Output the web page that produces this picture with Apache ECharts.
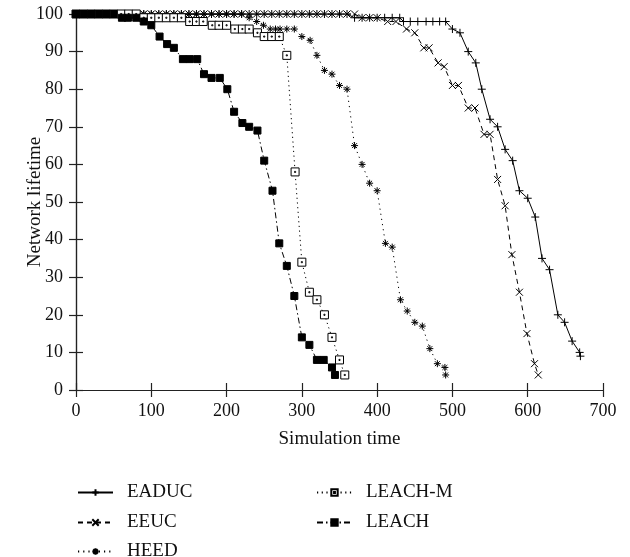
<!DOCTYPE html>
<html>
<head>
<meta charset="utf-8">
<script src="https://cdn.jsdelivr.net/npm/echarts@6/dist/echarts.min.js"></script>
<style>
  html, body { margin: 0; padding: 0; background: #fff; }
  #main { width: 630px; height: 557px; }
</style>
</head>
<body>
<div id="main"></div>
<script>
// x ticks / y ticks
var xTicks = [0, 100, 200, 300, 400, 500, 600, 700];
var yTicks = [0, 10, 20, 30, 40, 50, 60, 70, 80, 90, 100];

// [simulation time, network lifetime]
var eaduc = [
    [0,100],[10,100],[20,100],[30,100],[40,100],[50,100],[60,100],[70,100],[80,100],[90,100],
    [100,100],[110,100],[120,100],[130,100],[140,100],[150,100],[160,100],[170,100],[180,100],[190,100],
    [200,100],[210,100],[220,100],[230,100],[240,100],[250,100],[260,100],[270,100],[280,100],[290,100],
    [300,100],[310,100],[320,100],[330,100],[340,100],[350,100],[360,100],[370,99],[380,99],[390,99],
    [400,99],[410,99],[420,99],[430,99],[435,98],[444,98],[454,98],[465,98],[474,98],[483,98],[491,98],
    [500,96],[510,95],[521,90],[531,87],[539,80],[550,72],[560,70],[570,64],[580,61],[589,53],
    [600,51],[610,46],[619,35],[629,32],[640,20],[649,18],[659,13],[669,10],[670,9]
];
var eeuc = [
    [0,100],[10,100],[20,100],[30,100],[40,100],[50,100],[60,100],[70,100],[80,100],[90,100],
    [100,100],[110,100],[120,100],[130,100],[140,100],[150,100],[160,100],[170,100],[180,100],[190,100],
    [200,100],[210,100],[220,100],[230,100],[240,100],[250,100],[260,100],[270,100],[280,100],[290,100],
    [300,100],[310,100],[320,100],[330,100],[340,100],[350,100],[360,100],[370,100],[380,99],[390,99],
    [400,99],[414,98],[425,98],[439,96],[450,95],[462,91],[469,91],[481,87],[489,86],[500,81],
    [508,81],[521,75],[530,75],[542,68],[550,68],[560,56],[570,49],[579,36],[589,26],[599,15],
    [609,7],[614,4]
];
var heed = [
    [0,100],[10,100],[20,100],[30,100],[40,100],[50,100],[60,100],[70,100],[80,100],[90,100],
    [100,100],[110,100],[120,100],[130,100],[140,100],[150,100],[160,100],[170,100],[180,100],[190,100],
    [200,100],[210,100],[220,100],[230,99],[240,98],[249,97],[258,96],[265,96],[271,96],[280,96],
    [290,96],[300,94],[311,93],[320,89],[330,85],[340,84],[350,81],[360,80],[370,65],[380,60],
    [390,55],[400,53],[411,39],[420,38],[431,24],[440,21],[450,18],[460,17],[470,11],[480,7],
    [490,6],[491,4]
];
var leachM = [
    [0,100],[10,100],[20,100],[30,100],[40,100],[50,100],[60,100],[70,100],[80,100],[90,99],
    [100,99],[110,99],[120,99],[130,99],[140,99],[151,98],[160,98],[169,98],[181,97],[190,97],
    [200,97],[211,96],[221,96],[230,96],[241,95],[250,94],[260,94],[270,94],[280,89],[291,58],
    [300,34],[310,26],[320,24],[330,20],[340,14],[350,8],[357,4]
];
var leach = [
    [0,100],[10,100],[20,100],[30,100],[40,100],[50,100],[61,99],[69,99],[80,99],[90,98],
    [100,97],[111,94],[121,92],[130,91],[142,88],[151,88],[161,88],[170,84],[180,83],[191,83],
    [201,80],[210,74],[221,71],[230,70],[241,69],[250,61],[261,53],[270,39],[280,33],[290,25],
    [300,14],[310,12],[320,8],[329,8],[340,6],[344,4]
];

var font = 'Liberation Serif';
var plusPath = 'path://M0,5 L10,5 M5,0 L5,10';
var crossPath = 'path://M0,0 L10,10 M10,0 L0,10';
var starPath = 'path://M0,5 L10,5 M5,0 L5,10 M1.5,1.5 L8.5,8.5 M8.5,1.5 L1.5,8.5';
var boxPath = 'path://M0,0 L10,0 L10,10 L0,10 Z M4.3,4.3 L5.7,4.3 L5.7,5.7 L4.3,5.7 Z';

function mk(name, data, symbol, size, dash, fill) {
    return {
        name: name,
        type: 'line',
        data: data,
        symbol: symbol,
        symbolSize: size,
        showAllSymbol: true,
        color: '#000',
        itemStyle: {
            color: fill,
            borderColor: '#000',
            borderWidth: 1
        },
        lineStyle: {
            color: '#000',
            width: 1,
            type: dash
        },
        emphasis: { disabled: true }
    };
}

// one legend box per entry, so each sits where the reference has it
function leg(name, left, top) {
    return {
        data: [name],
        left: left,
        top: top,
        padding: 0,
        itemWidth: 35,
        itemHeight: 8,
        textStyle: { fontFamily: font, fontSize: 19, color: '#111', padding: [0, 0, 0, 9] }
    };
}

var myChart = echarts.init(document.getElementById('main'));

var axisLineStyle = { show: true, lineStyle: { color: '#222', width: 1.2 } };
var tickStyle = { show: true, inside: true, length: 7, lineStyle: { color: '#222', width: 1.2 } };

option = {
    animation: false,
    backgroundColor: '#fff',
    grid: {
        left: 76,
        right: 27,
        top: 14,
        bottom: 167
    },
    legend: [
        leg('EADUC', 77, 483),
        leg('EEUC', 77, 513),
        leg('HEED', 77, 542),
        leg('LEACH-M', 316, 483),
        leg('LEACH', 316, 513)
    ],
    xAxis: [
        {
            type: 'value',
            min: xTicks[0],
            max: xTicks[xTicks.length - 1],
            interval: 100,
            name: 'Simulation time',
            nameLocation: 'middle',
            nameGap: 40,
            nameMoveOverlap: false,
            nameTextStyle: { fontFamily: font, fontSize: 19, color: '#111' },
            axisLine: axisLineStyle,
            axisTick: tickStyle,
            axisLabel: { fontFamily: font, fontSize: 18, color: '#111', margin: 12 },
            splitLine: { show: false }
        },
        {
            type: 'value',
            position: 'top',
            min: xTicks[0],
            max: xTicks[xTicks.length - 1],
            interval: 100,
            axisLine: axisLineStyle,
            axisTick: tickStyle,
            axisLabel: { show: false },
            splitLine: { show: false }
        }
    ],
    yAxis: [
        {
            type: 'value',
            min: yTicks[0],
            max: yTicks[yTicks.length - 1],
            interval: 10,
            name: 'Network lifetime',
            nameLocation: 'middle',
            nameGap: 31,
            nameMoveOverlap: false,
            nameTextStyle: { fontFamily: font, fontSize: 19, color: '#111' },
            axisLine: axisLineStyle,
            axisTick: tickStyle,
            axisLabel: { fontFamily: font, fontSize: 18, color: '#111', margin: 13 },
            splitLine: { show: false }
        },
        {
            type: 'value',
            position: 'right',
            min: yTicks[0],
            max: yTicks[yTicks.length - 1],
            interval: 10,
            axisLine: axisLineStyle,
            axisTick: tickStyle,
            axisLabel: { show: false },
            splitLine: { show: false }
        }
    ],
    series: [
        mk('EADUC', eaduc, plusPath, 8, 'solid', '#000'),
        mk('EEUC', eeuc, crossPath, 7, [5, 4], '#000'),
        mk('HEED', heed, starPath, 7, [1.2, 4], '#000'),
        mk('LEACH-M', leachM, boxPath, 8, [1.2, 3.5], '#fff'),
        mk('LEACH', leach, 'rect', 7, [6, 3, 1.5, 3], '#000')
    ]
};

myChart.setOption(option);
window.addEventListener('resize', function () {
    myChart.resize();
});
</script>
</body>
</html>
